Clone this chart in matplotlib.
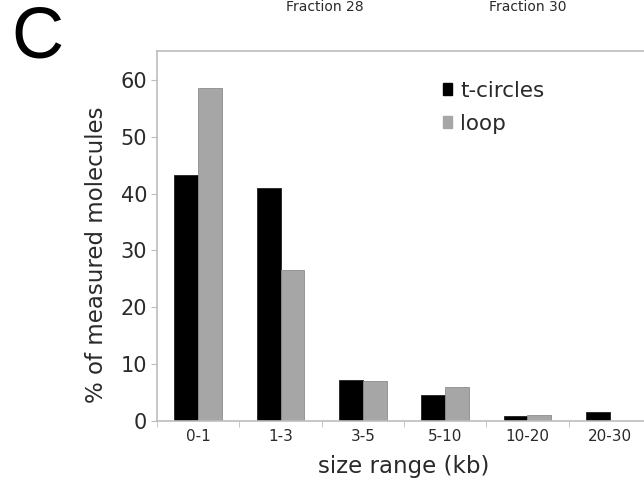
import matplotlib

matplotlib.use("Agg")
import matplotlib.pyplot as plt
import numpy as np
from matplotlib.patches import Patch

# values
size_ranges = ["0-1", "1-3", "3-5", "5-10", "10-20", "20-30"]
t_circles = [43.3, 41.0, 7.3, 4.5, 0.8, 1.6]
loop = [58.6, 26.5, 7.1, 5.9, 1.0, 0.0]
header_labels = ["Fraction 28", "Fraction 30"]

plt.rcParams["font.family"] = ["DejaVu Sans"]
TXT = "#2a2a2a"
SPINE = "#bdbdbd"

fig = plt.figure(figsize=(6.44, 4.83), dpi=100)
ax = fig.add_axes([157 / 644, 1 - 421 / 483, 494 / 644, 370 / 483])

x = np.arange(len(size_ranges))
w = 0.29
ax.bar(x - w / 2, t_circles, width=w, color="black", edgecolor="#202020", linewidth=0.6)
ax.bar(x + w / 2, loop, width=w, color="#a6a6a6", edgecolor="#8c8c8c", linewidth=0.6)

ax.set_xlim(-0.5, 5.5)
ax.set_ylim(0, 65.1)
ax.set_yticks(range(0, 61, 10))
ax.set_xticks(x)
ax.set_xticklabels(size_ranges, fontsize=11, color=TXT)
ax.set_xticks(np.arange(-0.5, 5.0, 1.0), minor=True)
ax.tick_params(axis="x", which="major", length=0, pad=6)
ax.tick_params(axis="x", which="minor", length=4, color=SPINE, direction="out")
ax.tick_params(axis="y", length=4, color=SPINE, labelsize=15, labelcolor=TXT, pad=3)

for side in ["left", "top", "bottom"]:
    ax.spines[side].set_color(SPINE)
    ax.spines[side].set_linewidth(1.2)
ax.spines["right"].set_visible(False)

ax.set_ylabel("% of measured molecules", fontsize=16.5, color=TXT)
ax.yaxis.set_label_coords(-0.1, 0.45)
ax.set_xlabel("size range (kb)", fontsize=16.5, color=TXT, labelpad=8)

handles = [Patch(facecolor="black", edgecolor="black"),
           Patch(facecolor="#a6a6a6", edgecolor="#a6a6a6")]
ax.legend(handles, ["t-circles", "loop"], loc="upper left",
          bbox_to_anchor=(432 / 644, 1 - 70 / 483), bbox_transform=fig.transFigure,
          frameon=False, fontsize=15.5, handlelength=0.45, handleheight=0.45,
          handletextpad=0.35, labelspacing=0.6, labelcolor=TXT, borderpad=0)

fig.text(37 / 644, 1 - 39 / 483, "C", fontsize=52, ha="center", va="center",
         color="black", family="Liberation Sans")
fig.text(325 / 644, 1, header_labels[0], fontsize=10, ha="center", va="top", color=TXT)
fig.text(528 / 644, 1, header_labels[1], fontsize=10, ha="center", va="top", color=TXT)

fig.savefig("out.png", dpi=100)
